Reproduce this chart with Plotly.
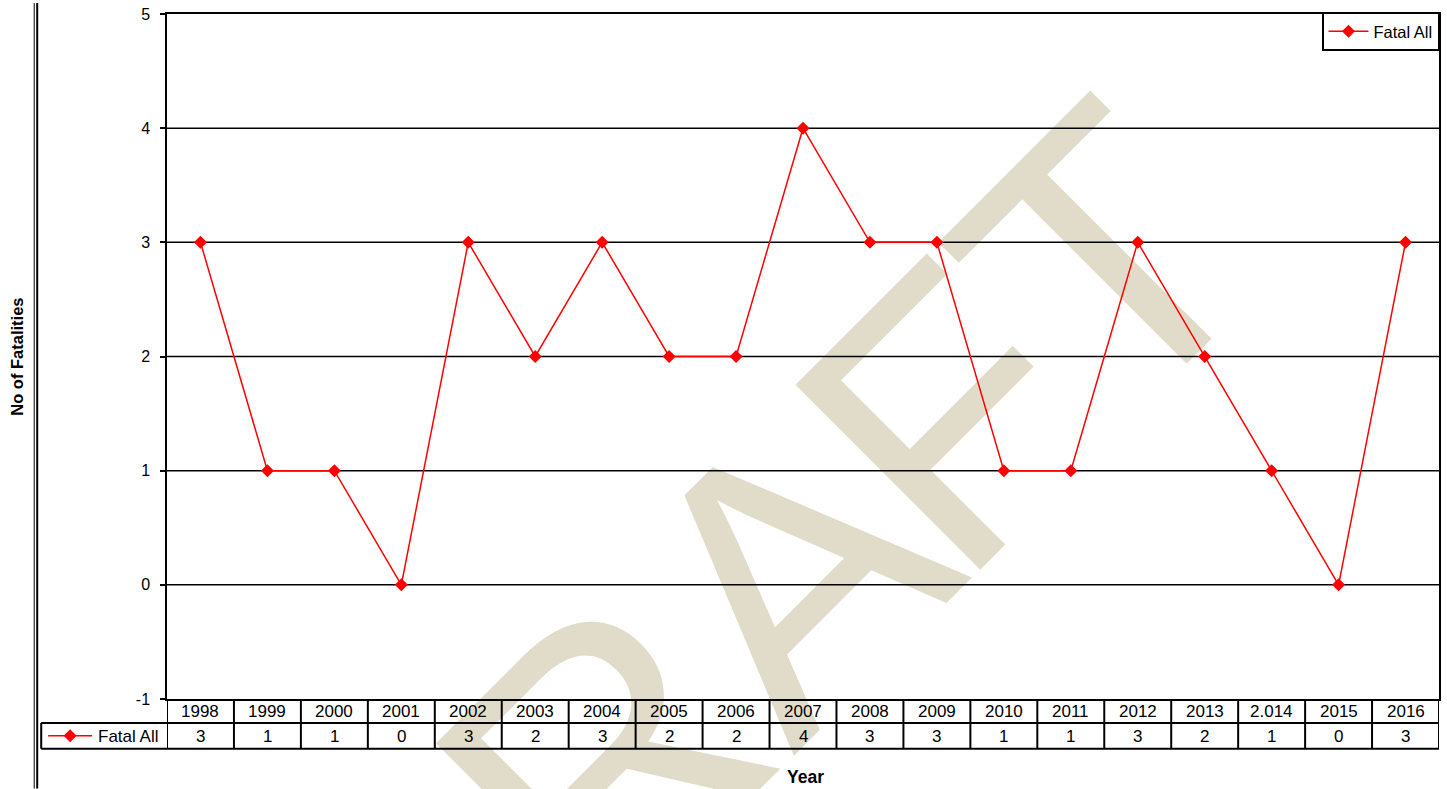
import math
import plotly.graph_objects as go

# ---------------- data ----------------
years = ["1998", "1999", "2000", "2001", "2002", "2003", "2004", "2005", "2006", "2007",
         "2008", "2009", "2010", "2011", "2012", "2013", "2.014", "2015", "2016"]
fatal_all = [3, 1, 1, 0, 3, 2, 3, 2, 2, 4, 3, 3, 1, 1, 3, 2, 1, 0, 3]
series_name = "Fatal All"
y_ticks = [-1, 0, 1, 2, 3, 4, 5]
grid_values = [0, 1, 2, 3, 4]
watermark_letters = ["D", "R", "A", "F", "T"]

# ---------------- layout constants (pixels) ----------------
W, H = 1447, 789
L, R, T, B = 167, 1441, 11, 699
FONT = "Liberation Sans, Arial, sans-serif"
RED = "#FF0000"
WM_COLOR = "#E1DCC9"
WM_SIZE = 380
# letter centres along the 45-degree baseline (u) and the line x+y = const for the centres
WM_U = [-357, -111, 155, 377, 602]
WM_SUM = 1364

def px2x(px):
    return (px - L) / (R - L)

def py2y(py):
    return (B - py) / (B - T)

n = len(years)
xs = list(range(n))
xmin, xmax = -0.5, n - 0.5
ymin, ymax = y_ticks[0], y_ticks[-1]
cat_w = (R - L) / n
unit_h = (B - T) / (ymax - ymin)

fig = go.Figure()

# watermark (as bar text so it sits beneath the grid and series);
# each bar is centred on a letter and ends at y=2 so its tip stays inside the range
WM_END = 2.0
wm_x, wm_base, wm_size = [], [], []
for u in WM_U:
    d = u * math.sqrt(2)
    cx = (d + WM_SUM) / 2
    cy = (WM_SUM - d) / 2
    yc = ymax - (cy - T) / unit_h
    wm_x.append((cx - L) / cat_w - 0.5)
    wm_base.append(2 * yc - WM_END)
    wm_size.append(2 * (WM_END - yc))
fig.add_trace(go.Bar(
    x=wm_x, y=wm_size, base=wm_base, width=[0.5] * len(wm_x),
    text=watermark_letters, textposition="inside", textangle=-45,
    constraintext="none", insidetextanchor="middle",
    insidetextfont=dict(family="Liberation Sans, Arial", size=WM_SIZE, color=WM_COLOR),
    marker=dict(color="rgba(0,0,0,0)", line=dict(width=0)),
    cliponaxis=False, hoverinfo="skip", showlegend=False,
))

# horizontal gridlines
gx, gy = [], []
for v in grid_values:
    gx += [xmin, xmax, None]
    gy += [v, v, None]
fig.add_trace(go.Scatter(x=gx, y=gy, mode="lines", line=dict(color="black", width=1.5),
                         hoverinfo="skip", showlegend=False))

# data series
fig.add_trace(go.Scatter(
    x=xs, y=fatal_all, mode="lines+markers", name=series_name,
    line=dict(color=RED, width=1.5),
    marker=dict(symbol="diamond", size=10, color=RED),
))

shapes = []
annotations = []
LINE = dict(color="black", width=2)

# data table lines
row1, row2, row3 = 699, 723, 749
shapes.append(dict(type="line", xref="paper", yref="paper", x0=px2x(41), x1=px2x(R),
                   y0=py2y(row2), y1=py2y(row2), line=LINE))
shapes.append(dict(type="line", xref="paper", yref="paper", x0=px2x(41), x1=px2x(R),
                   y0=py2y(row3), y1=py2y(row3), line=LINE))
shapes.append(dict(type="line", xref="paper", yref="paper", x0=px2x(41), x1=px2x(41),
                   y0=py2y(row2), y1=py2y(row3), line=LINE))
for i in range(n + 1):
    shapes.append(dict(type="line", xref="x", yref="paper", x0=i - 0.5, x1=i - 0.5,
                       y0=py2y(row1), y1=py2y(row3), line=LINE))

# table texts
TF = dict(family=FONT, size=17, color="black")
for i, (yr, v) in enumerate(zip(years, fatal_all)):
    annotations.append(dict(x=i, y=py2y((row1 + row2) / 2 + 1), xref="x", yref="paper",
                            text=yr, showarrow=False, font=TF,
                            xanchor="center", yanchor="middle"))
    annotations.append(dict(x=i, y=py2y((row2 + row3) / 2 + 1), xref="x", yref="paper",
                            text=str(v), showarrow=False, font=TF,
                            xanchor="center", yanchor="middle"))

# legend key inside table
ky = (row2 + row3) / 2
shapes.append(dict(type="line", xref="paper", yref="paper", x0=px2x(48), x1=px2x(92),
                   y0=py2y(ky), y1=py2y(ky), line=dict(color=RED, width=1.5)))
dd = 6.5
kx = 70
shapes.append(dict(type="path", xref="paper", yref="paper",
                   path=f"M{px2x(kx-dd)},{py2y(ky)} L{px2x(kx)},{py2y(ky-dd)} L{px2x(kx+dd)},{py2y(ky)} L{px2x(kx)},{py2y(ky+dd)} Z",
                   fillcolor=RED, line=dict(color=RED, width=0)))
annotations.append(dict(x=px2x(96), y=py2y(ky + 1), xref="paper", yref="paper", text=series_name,
                        showarrow=False, font=TF, xanchor="left", yanchor="middle"))

# left double border
shapes.append(dict(type="line", xref="paper", yref="paper", x0=px2x(34), x1=px2x(34),
                   y0=py2y(0), y1=py2y(H), line=dict(color="black", width=1)))
shapes.append(dict(type="line", xref="paper", yref="paper", x0=px2x(37), x1=px2x(37),
                   y0=py2y(0), y1=py2y(H), line=dict(color="black", width=2)))

# axis titles
annotations.append(dict(x=px2x(16), y=0.5, xref="paper", yref="paper", text="<b>No of Fatalities</b>",
                        textangle=-90, showarrow=False, font=dict(family=FONT, size=16.5, color="black"),
                        xanchor="center", yanchor="middle"))
annotations.append(dict(x=px2x(807), y=py2y(777), xref="paper", yref="paper", text="<b>Year</b>",
                        showarrow=False, font=dict(family=FONT, size=17.5, color="black"),
                        xanchor="center", yanchor="middle"))

fig.update_layout(
    width=W, height=H,
    margin=dict(l=L, r=W - R, t=T, b=H - B, pad=0),
    paper_bgcolor="white", plot_bgcolor="white",
    font=dict(family=FONT, size=16, color="black"),
    shapes=shapes, annotations=annotations,
    showlegend=True,
    legend=dict(x=1, y=1.002, xanchor="right", yanchor="top", bgcolor="white",
                bordercolor="black", borderwidth=1.5, font=dict(family=FONT, size=16.5),
                itemwidth=40),
    xaxis=dict(range=[xmin, xmax], showticklabels=False, ticks="", showgrid=False, zeroline=False,
               showline=True, mirror=True, linecolor="black", linewidth=1.5, fixedrange=True),
    yaxis=dict(range=[ymin, ymax], tickvals=y_ticks, ticktext=[str(v) for v in y_ticks],
               ticks="outside", ticklen=5, tickwidth=1.5,
               tickcolor="black", showgrid=False, zeroline=False, showline=True, mirror=True,
               linecolor="black", linewidth=1.5, tickfont=dict(family=FONT, size=16),
               ticklabelstandoff=7, fixedrange=True),
    hovermode=False,
)

fig.write_html("out.html")
